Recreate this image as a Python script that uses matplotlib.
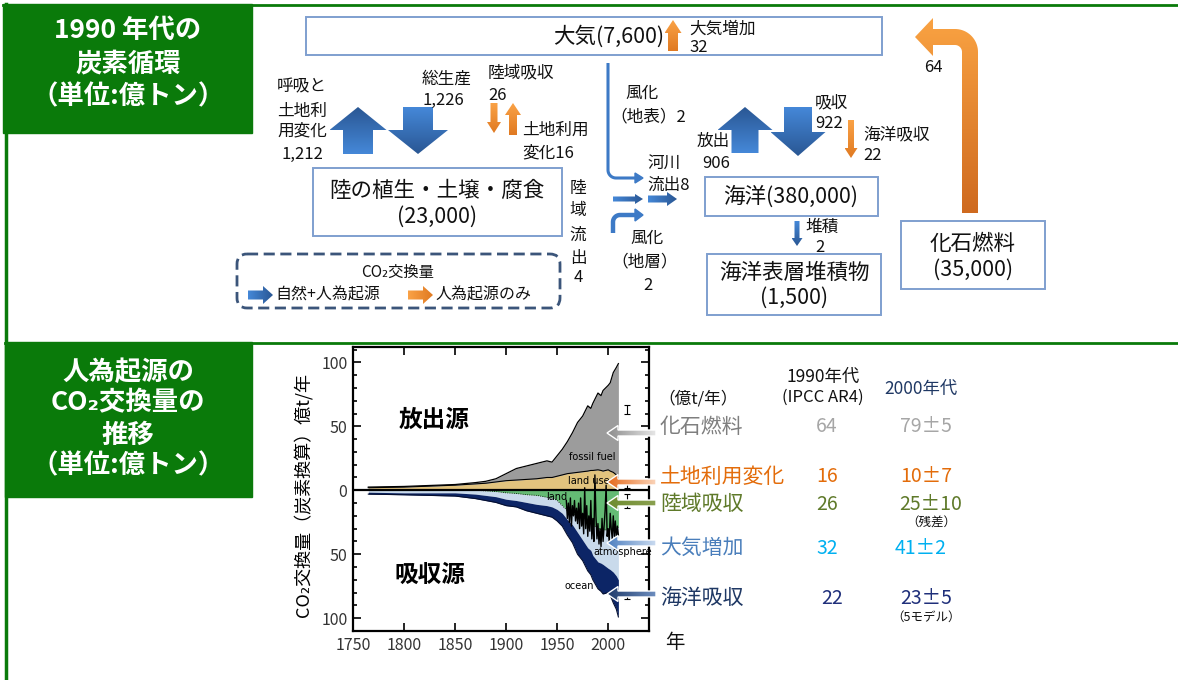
"""1990年代の炭素循環 + 人為起源CO2交換量の推移."""

import numpy as np
import matplotlib
matplotlib.use("Agg")
import matplotlib.pyplot as plt
from matplotlib.patches import Polygon, Rectangle, FancyBboxPatch
from matplotlib.colors import LinearSegmentedColormap
from matplotlib.ticker import MultipleLocator, FuncFormatter

plt.rcParams["font.family"] = ["Noto Sans CJK JP", "DejaVu Sans"]

# ---- data -----------------------------------------------------------------
# stocks (億トン) and fluxes (億トン/年) of the 1990s carbon cycle
stock_atm, stock_land, stock_ocean, stock_sediment, stock_fossil = 7600, 23000, 380000, 1500, 35000
flux_resp, flux_gpp, flux_land_uptake, flux_luc = 1212, 1226, 26, 16
flux_ocean_out, flux_ocean_in, flux_ocean_net = 906, 922, 22
flux_atm_growth, flux_fossil = 32, 64
flux_weather_surf, flux_river, flux_runoff, flux_weather_rock, flux_burial = 2, 8, 4, 2, 2

# time series (億t/年), components stacked
years = [1765, 1800, 1850, 1870, 1880, 1890, 1900, 1910, 1920, 1930, 1940, 1945,
         1950, 1955, 1960, 1965, 1970, 1975, 1980, 1983, 1985, 1990, 1993, 1995,
         2000, 2002, 2005, 2008, 2010]
land_use = [2, 2.5, 4, 5, 5.5, 6.5, 7.5, 8, 8.5, 9, 10, 10, 11, 12, 13, 13.5, 14,
            14.5, 15, 15.5, 15.5, 16, 15.5, 15, 16, 15, 14, 12, 9]
fossil_fuel = [0.5, 0.5, 0.5, 1, 1.5, 2.5, 5.5, 9, 10.5, 12, 13, 12, 16, 20, 25,
               31.5, 39, 43.5, 51, 48.5, 52.5, 60, 58.5, 63, 66, 69, 78, 84, 90]
land_sink = [0, 0, 0, 0, 0.5, 1, 2, 2.5, 3.5, 4, 5.5, 6, 8, 12, 16, 18, 20, 21,
             24, 25, 27, 30, 31, 31, 31, 31, 30, 29, 29]
atmos_growth = [1.5, 2, 2, 3, 3.5, 4, 5, 5.5, 6, 7, 6.5, 7, 7, 6, 7, 9, 13, 18,
                21, 22, 24, 26, 26, 27, 30, 31, 34, 38, 41]
ocean_sink = [1.5, 1.5, 2.5, 3.5, 4, 4.5, 5, 5, 6.5, 7, 8, 8, 9, 10, 12, 14, 17,
              16, 18, 19, 19, 21, 22, 23, 19, 20, 24, 26, 29]

land_years = list(range(1959, 2011))
land_annual = [-8, -22, -10, -25, -6, -28, -12, -20, -8, -24, -14, -26, -10, -30,
               -6, -28, -18, -34, 2, -30, -12, -36, -20, -32, -8, -38, -22, -40,
               12, -20, -38, -26, -42, -30, -44, -22, -40, -28, -16, 4, -36, -30,
               -40, -18, -30, -38, -20, -36, -24, -38, -28, -35]

# uncertainty bars for the 2000s (center, half-width)
err_center = [63, 3.5, -8.5, -40, -84]
err_half = [3.5, 1.5, 5.5, 0.5, 1]

# table
flux_labels = ["化石燃料", "土地利用変化", "陸域吸収", "大気増加", "海洋吸収"]
flux_1990 = [64, 16, 26, 32, 22]
flux_2000 = [79, 10, 25, 41, 23]
flux_2000_err = [5, 7, 10, 2, 5]
flux_notes = ["", "", "（残差）", "", "（5モデル）"]
label_colors = ["#7F7F7F", "#E36C0A", "#5F7A2A", "#4A7EBB", "#1F3864"]
value_colors = ["#A6A6A6", "#E36C0A", "#5F7A2A", "#00B0F0", "#1F2F7A"]

# ---- helpers --------------------------------------------------------------
W, H = 1178, 680
GREEN = "#0A7A0A"
BOX = "#7F9FCF"
BLUE_L, BLUE_D = "#4588D8", "#2A5794"
OR_L, OR_D = "#FAA246", "#E07A22"


def grad_fill(ax, pts, c0, c1, vertical=True, z=3, ec=None, lw=0.0):
    pts = np.asarray(pts, dtype=float)
    poly = Polygon(pts, closed=True, fc="none", ec="none", zorder=z)
    ax.add_patch(poly)
    x0, x1 = pts[:, 0].min(), pts[:, 0].max()
    y0, y1 = pts[:, 1].min(), pts[:, 1].max()
    g = np.linspace(0, 1, 64)
    arr = g.reshape(-1, 1) if vertical else g.reshape(1, -1)
    cmap = LinearSegmentedColormap.from_list("g", [c0, c1])
    im = ax.imshow(arr, cmap=cmap, extent=[x0, x1, y1, y0], origin="upper",
                   aspect="auto", interpolation="bilinear", zorder=z)
    im.set_clip_path(poly)
    if ec:
        ax.add_patch(Polygon(pts, closed=True, fc="none", ec=ec, lw=lw, zorder=z + 0.1))


def arrow_pts(xt, yt, xh, yh, sw, hw, hl):
    d = np.array([xh - xt, yh - yt], dtype=float)
    d /= np.hypot(*d)
    n = np.array([-d[1], d[0]])
    tail, tip = np.array([xt, yt], float), np.array([xh, yh], float)
    base = tip - d * hl
    return [tail + n * sw / 2, base + n * sw / 2, base + n * hw / 2, tip,
            base - n * hw / 2, base - n * sw / 2, tail - n * sw / 2]


def v_arrow(ax, x, yt, yh, sw, hw, hl, light, dark, xh=None):
    xh = x if xh is None else xh
    pts = arrow_pts(x, yt, xh, yh, sw, hw, hl)
    if yh < yt:      # pointing up: tip on top is dark
        grad_fill(ax, pts, dark, light)
    else:
        grad_fill(ax, pts, light, dark)


def h_arrow(ax, xt, xh, y, sw, hw, hl, light, dark, z=3, ec=None, lw=0.0):
    pts = arrow_pts(xt, y, xh, y, sw, hw, hl)
    if xh > xt:
        grad_fill(ax, pts, light, dark, vertical=False, z=z, ec=ec, lw=lw)
    else:
        grad_fill(ax, pts, dark, light, vertical=False, z=z, ec=ec, lw=lw)


def txt(ax, x, y, s, size=12, ha="left", color="#111111", weight="normal", **kw):
    ax.text(x, y, s, fontsize=size, ha=ha, va="center", color=color,
            fontweight=weight, **kw)


def box(ax, x0, y0, x1, y1):
    ax.add_patch(Rectangle((x0, y0), x1 - x0, y1 - y0, fc="white", ec=BOX, lw=1.4, zorder=2))


# ---- figure ---------------------------------------------------------------
fig = plt.figure(figsize=(W / 100, H / 100), dpi=100)
bg = fig.add_axes([0, 0, 1, 1], zorder=0)
bg.axis("off")

# frame and title boxes
bg.plot([3, W], [5, 5], color=GREEN, lw=2, zorder=1)
bg.plot([5.5, 5.5], [4, H], color=GREEN, lw=2.5, zorder=1)
bg.plot([5, W], [343, 343], color=GREEN, lw=2, zorder=1)
bg.add_patch(Rectangle((3, 4), 249, 129, color=GREEN, zorder=1))
bg.add_patch(Rectangle((5, 342), 247, 155, color=GREEN, zorder=1))
for y, s in zip([30, 64, 97], ["1990 年代の", "炭素循環", "（単位:億トン）"]):
    txt(bg, 128, y, s, size=19, ha="center", color="white", weight="bold")
for y, s in zip([372, 403, 435, 466], ["人為起源の", "CO₂交換量の", "推移", "（単位:億トン）"]):
    txt(bg, 128, y, s, size=19, ha="center", color="white", weight="bold")

# reservoirs
box(bg, 306, 17, 882, 55)
txt(bg, 609, 37, f"大気({stock_atm:,})", size=15.5, ha="center")
box(bg, 313, 168, 562, 236)
txt(bg, 437, 191, "陸の植生・土壌・腐食", size=15.5, ha="center")
txt(bg, 437, 217, f"({stock_land:,})", size=15.5, ha="center")
box(bg, 705, 177, 878, 216)
txt(bg, 791, 197, f"海洋({stock_ocean:,})", size=15.5, ha="center")
box(bg, 707, 254, 881, 315)
txt(bg, 794, 273, "海洋表層堆積物", size=15.5, ha="center")
txt(bg, 794, 298, f"({stock_sediment:,})", size=15.5, ha="center")
box(bg, 901, 221, 1045, 289)
txt(bg, 973, 244, "化石燃料", size=15.5, ha="center")
txt(bg, 973, 270, f"({stock_fossil:,})", size=15.5, ha="center")

# land exchange
v_arrow(bg, 358, 154, 107, 30, 57, 23, BLUE_L, BLUE_D)
v_arrow(bg, 418, 107, 154, 30, 60, 24, BLUE_L, BLUE_D)
for y, s in zip([87, 111, 131], ["呼吸と", "土地利", "用変化"]):
    txt(bg, 277, y, s)
txt(bg, 302, 154, f"{flux_resp:,}", ha="center")
txt(bg, 422, 79, "総生産")
txt(bg, 422, 100, f"{flux_gpp:,}")
txt(bg, 488, 73, "陸域吸収")
txt(bg, 488, 95, f"{flux_land_uptake}")
v_arrow(bg, 494, 103, 133, 7, 14, 11, OR_L, OR_D)
v_arrow(bg, 513, 135, 103, 8, 16, 12, OR_D, OR_L)
txt(bg, 522, 130, "土地利用")
txt(bg, 522, 153, f"変化{flux_luc}")

# atmosphere growth & fossil
v_arrow(bg, 673, 51, 20, 10, 17, 13, OR_D, OR_L)
txt(bg, 689, 29, "大気増加")
txt(bg, 689, 47, f"{flux_atm_growth}")
cx, cy = 955, 52
t_out = np.radians(np.linspace(90, 0, 20))
t_in = np.radians(np.linspace(0, 90, 20))
big = [(915, 37), (933, 18), (933, 29)]
big += [(cx + 23 * np.cos(t), cy - 23 * np.sin(t)) for t in t_out]
big += [(978, 213), (962, 213)]
big += [(cx + 7 * np.cos(t), cy - 7 * np.sin(t)) for t in t_in]
big += [(933, 45), (933, 56)]
grad_fill(bg, big, "#F9A242", "#CF6A1F")
txt(bg, 933, 68, f"{flux_fossil}", ha="center")

# ocean exchange
v_arrow(bg, 745, 153, 107, 27, 55, 23, BLUE_L, BLUE_D)
v_arrow(bg, 798, 107, 156, 28, 55, 24, BLUE_L, BLUE_D)
txt(bg, 697, 141, "放出")
txt(bg, 702, 163, f"{flux_ocean_out}")
txt(bg, 815, 103, "吸収")
txt(bg, 815, 124, f"{flux_ocean_in}")
v_arrow(bg, 851, 120, 158, 6, 13, 10, OR_L, OR_D)
txt(bg, 863, 135, "海洋吸収")
txt(bg, 863, 155, f"{flux_ocean_net}")

# weathering / rivers
t1 = np.radians(np.linspace(180, 270, 15))
p1 = [(608, 63), (608, 170)] + [(616 + 8 * np.cos(t), 170 - 8 * np.sin(t)) for t in t1] + [(637, 178)]
p1 = np.array(p1)
bg.plot(p1[:, 0], p1[:, 1], color="#3D7AC6", lw=2.2, solid_capstyle="butt", zorder=3)
bg.add_patch(Polygon([(635, 173), (643, 178), (635, 183)], color="#3D7AC6", zorder=3))
t2 = np.radians(np.linspace(180, 90, 15))
p2 = [(613, 233), (613, 222)] + [(620 + 7 * np.cos(t), 222 - 7 * np.sin(t)) for t in t2] + [(637, 215)]
p2 = np.array(p2)
bg.plot(p2[:, 0], p2[:, 1], color="#3D7AC6", lw=3.2, solid_capstyle="butt", zorder=3)
bg.add_patch(Polygon([(635, 209), (643, 215), (635, 221)], color="#3D7AC6", zorder=3))
h_arrow(bg, 613, 643, 199, 5, 10, 8, BLUE_L, BLUE_D)
h_arrow(bg, 648, 677, 199, 7, 14, 10, BLUE_L, BLUE_D)
txt(bg, 625, 93, "風化")
txt(bg, 610, 117, f"（地表）{flux_weather_surf}")
txt(bg, 647, 163, "河川")
txt(bg, 647, 185, f"流出{flux_river}")
for y, s in zip([188, 211, 235, 258, 278], ["陸", "域", "流", "出", f"{flux_runoff}"]):
    txt(bg, 578, y, s, ha="center")
txt(bg, 647, 238, "風化", ha="center")
txt(bg, 645, 262, "（地層）", ha="center")
txt(bg, 648, 285, f"{flux_weather_rock}", ha="center")
v_arrow(bg, 797, 221, 246, 5, 11, 8, BLUE_L, BLUE_D)
txt(bg, 805, 227, "堆積")
txt(bg, 820, 247, f"{flux_burial}", ha="center")

# legend
bg.add_patch(FancyBboxPatch((237, 254), 323, 54, boxstyle="round,pad=0,rounding_size=10",
                            fc="none", ec="#3B557A", lw=2, ls=(0, (4, 2)), zorder=2))
txt(bg, 398, 272, "CO₂交換量", size=11, ha="center")
h_arrow(bg, 248, 273, 295, 9, 18, 10, BLUE_L, BLUE_D)
txt(bg, 275, 295, "自然+人為起源", size=11.5)
h_arrow(bg, 408, 433, 295, 9, 18, 10, OR_L, OR_D)
txt(bg, 435, 295, "人為起源のみ", size=11.5)

# table beside the chart
txt(bg, 698, 399, "（億t/年）", size=12, ha="center")
txt(bg, 823, 377, "1990年代", size=12.5, ha="center")
txt(bg, 823, 397, "(IPCC AR4)", size=12, ha="center")
txt(bg, 921, 389, "2000年代", size=12.5, ha="center", color="#1F3864")
row_y = [427, 477, 504, 548, 598]
x90 = [827, 827, 827, 827, 832]
x00 = [926, 926, 931, 921, 926]
for i, lab in enumerate(flux_labels):
    txt(bg, 660, row_y[i], lab, size=15, color=label_colors[i])
    txt(bg, x90[i], row_y[i], f"{flux_1990[i]}", size=14, ha="center", color=value_colors[i])
    txt(bg, x00[i], row_y[i], f"{flux_2000[i]}±{flux_2000_err[i]}", size=14, ha="center",
        color=value_colors[i])
    if flux_notes[i]:
        txt(bg, x00[i], row_y[i] + 19, flux_notes[i], size=9, ha="center")
txt(bg, 665, 642, "年", size=14)

bg.set_xlim(0, W)
bg.set_ylim(H, 0)

# ---- time-series chart ----------------------------------------------------
ax = fig.add_axes([353 / W, (H - 631) / H, 296 / W, 284 / H], zorder=1)
yr = np.array(years)
lu = np.array(land_use)
top = lu + np.array(fossil_fuel)
g_bot = -np.array(land_sink)
a_bot = g_bot - np.array(atmos_growth)
o_bot = a_bot - np.array(ocean_sink)

ax.fill_between(yr, 0, lu, color="#E2C37E", lw=0)
ax.fill_between(yr, lu, top, color="#9C9C9C", lw=0)
ax.fill_between(yr, 0, g_bot, color="#64BB74", lw=0)
ax.fill_between(yr, g_bot, a_bot, color="#C9DAEB", lw=0)
ax.fill_between(yr, a_bot, o_bot, color="#0C2566", lw=0)
ax.plot(yr, top, color="black", lw=0.9)
ax.plot(yr, lu, color="black", lw=0.8)
ax.plot(yr, o_bot, color="#050F30", lw=0.8)
ax.plot(yr, g_bot, color="black", lw=0.6, ls=":")
ax.plot(land_years, land_annual, color="black", lw=1.0)
ax.axhline(0, color="black", lw=1.6)
ax.errorbar([2018] * len(err_center), err_center, yerr=err_half, fmt="none",
            ecolor="black", elinewidth=0.8, capsize=2.5, capthick=0.8)

ax.text(1829, 55, "放出源", fontsize=17, fontweight="bold", ha="center", va="center")
ax.text(1825, -66, "吸収源", fontsize=17, fontweight="bold", ha="center", va="center")
for x, y, s in [(1984, 26, "fossil fuel"), (1981, 7, "land use"), (1950, -5.5, "land"),
                (2014, -48, "atmosphere"), (1972, -75, "ocean")]:
    ax.text(x, y, s, fontsize=7, ha="center", va="center", family="DejaVu Sans")

ax.set_xlim(1750, 2040)
ax.set_ylim(-110, 112)
ax.xaxis.set_major_locator(MultipleLocator(50))
ax.yaxis.set_major_locator(MultipleLocator(50))
ax.yaxis.set_minor_locator(MultipleLocator(10))
ax.yaxis.set_major_formatter(FuncFormatter(lambda v, p: f"{abs(v):.0f}"))
ax.tick_params(which="both", direction="in", top=True, right=True, labelsize=11.5,
               labelcolor="#333333", width=1.2)
ax.tick_params(which="major", length=6, pad=4)
ax.tick_params(which="minor", length=3)
for sp in ax.spines.values():
    sp.set_linewidth(1.6)
ax.set_ylabel("CO₂交換量（炭素換算）億t/年", fontsize=13, va="center")
ax.yaxis.set_label_coords(-0.169, 0.48)

# arrows pointing from the table into the chart
ov = fig.add_axes([0, 0, 1, 1], zorder=2)
ov.axis("off")
ov.patch.set_alpha(0)
for y, dark, light in [(433, "#8C8C8C", "#E6E6E6"), (482, "#E5691A", "#FAD3B8"),
                       (503, "#6E8B2E", "#8AA050"), (543, "#4E7FBF", "#C9DAF0"),
                       (594, "#1F3A6A", "#6C8DBE")]:
    h_arrow(ov, 656, 607, y, 6, 15, 11, light, dark, ec="white", lw=1.0)
ov.set_xlim(0, W)
ov.set_ylim(H, 0)

fig.savefig("out.png", dpi=100)
